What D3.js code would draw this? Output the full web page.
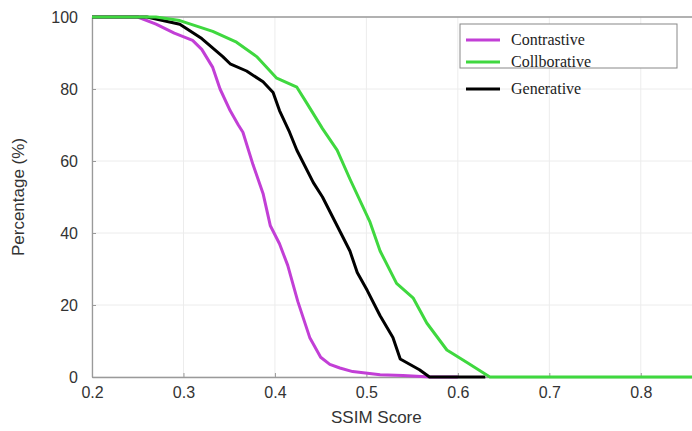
<!DOCTYPE html>
<html>
<head>
<meta charset="utf-8">
<script src="https://cdn.jsdelivr.net/npm/d3@7"></script>
<style>
  body { margin: 0; background: #fff; }
  svg { display: block; }
</style>
</head>
<body>
<div id="chart"></div>
<script>
// SSIM score (x) vs percentage of samples above it (y)
const contrastiveX = [0.20, 0.25, 0.27, 0.29, 0.31, 0.32, 0.332, 0.34, 0.351, 0.36, 0.365, 0.376, 0.387, 0.395, 0.405, 0.414, 0.425, 0.438, 0.45, 0.46, 0.471, 0.485, 0.515, 0.54, 0.57, 0.60];
const contrastiveY = [100, 100, 98, 95.5, 93.5, 91, 86, 80, 74, 70, 68, 59, 51, 42, 37, 31, 21, 11, 5.5, 3.5, 2.5, 1.5, 0.6, 0.4, 0, 0];

const collabX = [0.20, 0.27, 0.296, 0.332, 0.358, 0.38, 0.402, 0.424, 0.435, 0.452, 0.468, 0.482, 0.504, 0.515, 0.533, 0.551, 0.566, 0.588, 0.61, 0.635, 0.856];
const collabY = [100, 100, 99, 96, 93, 89, 83, 80.5, 76, 69, 63, 55, 43, 35, 26, 22, 15, 7.5, 4, 0, 0];

const generativeX = [0.20, 0.26, 0.296, 0.32, 0.343, 0.351, 0.369, 0.387, 0.398, 0.405, 0.416, 0.424, 0.442, 0.452, 0.468, 0.482, 0.49, 0.501, 0.515, 0.529, 0.537, 0.558, 0.569, 0.63];
const generativeY = [100, 100, 98, 94, 89, 87, 85, 82, 79, 74, 68, 63, 54, 50, 42, 35, 29, 24, 17, 11, 5, 2, 0, 0];

const xTicks = [0.2, 0.3, 0.4, 0.5, 0.6, 0.7, 0.8];
const yTicks = [0, 20, 40, 60, 80, 100];
const seriesNames = ["Contrastive", "Collborative", "Generative"];

const width = 692;
const height = 431;
const margin = { top: 17, right: 0, bottom: 54, left: 92 };

const svg = d3.select("#chart").append("svg")
    .attr("width", width)
    .attr("height", height);

const x = d3.scaleLinear()
    .domain([0.2, 0.856])
    .range([margin.left, width - margin.right]);

const y = d3.scaleLinear()
    .domain([0, 100])
    .range([height - margin.bottom, margin.top]);

// grid
svg.append("g")
    .selectAll("line.vg")
    .data(xTicks)
    .enter().append("line")
    .attr("x1", d => x(d)).attr("x2", d => x(d))
    .attr("y1", y(0)).attr("y2", y(100))
    .attr("stroke", "#ececec").attr("stroke-width", 1);

svg.append("g")
    .selectAll("line.hg")
    .data(yTicks)
    .enter().append("line")
    .attr("x1", x(0.2)).attr("x2", width)
    .attr("y1", d => y(d)).attr("y2", d => y(d))
    .attr("stroke", "#ececec").attr("stroke-width", 1);

// axes
const xAxis = svg.append("g")
    .attr("transform", `translate(0,${y(0)})`)
    .call(d3.axisBottom(x).tickValues(xTicks).tickFormat(d3.format(".1f")).tickSizeInner(-4).tickSizeOuter(0).tickPadding(10));

const yAxis = svg.append("g")
    .attr("transform", `translate(${x(0.2)},0)`)
    .call(d3.axisLeft(y).tickValues(yTicks).tickSizeInner(-4).tickSizeOuter(0).tickPadding(14));

[xAxis, yAxis].forEach(a => {
    a.select(".domain").attr("stroke", "#9a9a9a").attr("stroke-width", 1.3);
    a.selectAll(".tick line").attr("stroke", "#9a9a9a");
    a.selectAll("text")
        .attr("fill", "#333")
        .style("font-family", "Liberation Sans, Arial, sans-serif")
        .style("font-size", "16px");
});

// top border
svg.append("line")
    .attr("x1", x(0.2)).attr("x2", width)
    .attr("y1", y(100)).attr("y2", y(100))
    .attr("stroke", "#9a9a9a").attr("stroke-width", 1.3);

// lines
const line = d3.line()
    .x(d => x(d[0]))
    .y(d => y(d[1]));

const series = [
    { name: seriesNames[0], xs: contrastiveX, ys: contrastiveY, color: "#c23fd6" },
    { name: seriesNames[2], xs: generativeX, ys: generativeY, color: "#000000" },
    { name: seriesNames[1], xs: collabX, ys: collabY, color: "#3fd83f" }
];

series.forEach(s => {
    svg.append("path")
        .datum(s.xs.map((v, i) => [v, s.ys[i]]))
        .attr("fill", "none")
        .attr("stroke", s.color)
        .attr("stroke-width", 3)
        .attr("stroke-linejoin", "round")
        .attr("d", line);
});

// axis titles
svg.append("text")
    .attr("x", x(0.5) + 10)
    .attr("y", 423)
    .attr("text-anchor", "middle")
    .attr("fill", "#333")
    .style("font-family", "Liberation Sans, Arial, sans-serif")
    .style("font-size", "17px")
    .text("SSIM Score");

svg.append("text")
    .attr("transform", `translate(24,${y(50)}) rotate(-90)`)
    .attr("text-anchor", "middle")
    .attr("fill", "#333")
    .style("font-family", "Liberation Sans, Arial, sans-serif")
    .style("font-size", "17px")
    .text("Percentage (%)");

// legend
const legend = svg.append("g");
legend.append("rect")
    .attr("x", 460).attr("y", 24)
    .attr("width", 217).attr("height", 44)
    .attr("fill", "#fff")
    .attr("stroke", "#888").attr("stroke-width", 1);

const legendItems = [
    { name: seriesNames[0], color: "#c23fd6", yPos: 40 },
    { name: seriesNames[1], color: "#3fd83f", yPos: 62 },
    { name: seriesNames[2], color: "#000000", yPos: 89 }
];

legendItems.forEach(d => {
    legend.append("line")
        .attr("x1", 466).attr("x2", 500)
        .attr("y1", d.yPos).attr("y2", d.yPos)
        .attr("stroke", d.color).attr("stroke-width", 3);
    legend.append("text")
        .attr("x", 511).attr("y", d.yPos + 5)
        .attr("fill", "#222")
        .style("font-family", "Liberation Serif, Times New Roman, serif")
        .style("font-size", "16px")
        .text(d.name);
});
</script>
</body>
</html>
